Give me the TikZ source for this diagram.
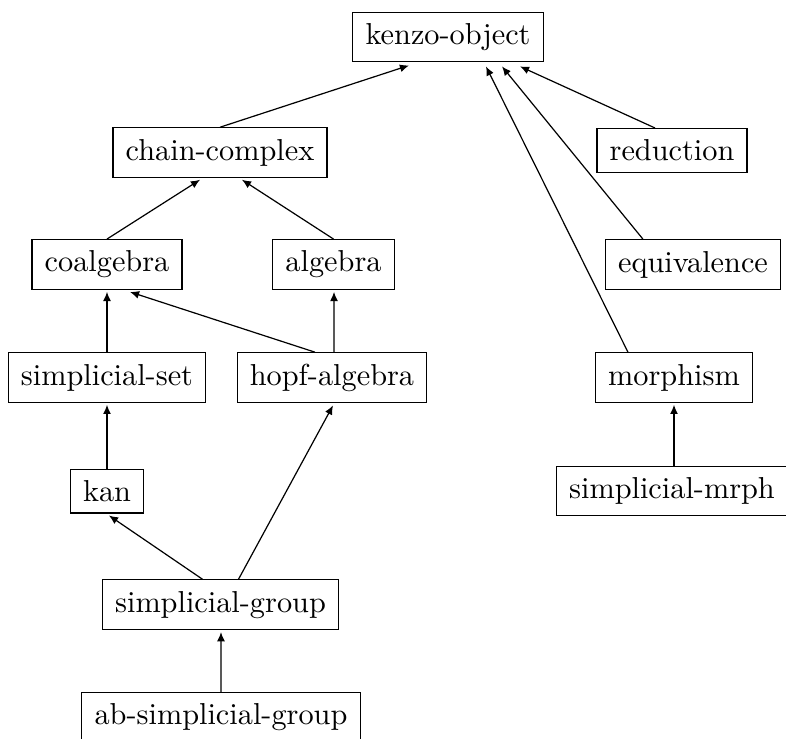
\documentclass[tikz,border=0pt]{standalone}
\usetikzlibrary{arrows.meta,calc}
\begin{document}
\begin{tikzpicture}[x=0.33pt,y=-0.33pt,
  cls/.style={draw,line width=0.4pt,inner xsep=4.2pt,inner ysep=3.7pt,font=\normalsize},
  inh/.style={line width=0.4pt,-{Latex[length=3pt,width=2.6pt]}}]
  \clip (0,0) rectangle (786,738);

  % class boxes
  \node[cls] (ko)    at (448,37)    {kenzo-object};
  \node[cls] (cc)    at (220,152.5) {chain-complex};
  \node[cls] (red)   at (672,150.5) {reduction};
  \node[cls] (coal)  at (107,264.5) {coalgebra};
  \node[cls] (alg)   at (333.5,264.5) {algebra};
  \node[cls] (eq)    at (693,264.5) {equivalence};
  \node[cls] (sset)  at (107,377.5) {simplicial-set};
  \node[cls] (hopf)  at (332,377.8) {hopf-algebra};
  \node[cls] (mor)   at (674,377.5) {morphism};
  \node[cls] (kan)   at (107,491)   {kan};
  \node[cls] (smrph) at (672,491)   {simplicial-mrph};
  \node[cls] (sg)    at (220.5,604.7) {simplicial-group};
  \node[cls] (ab)    at (221,717.3) {ab-simplicial-group};

  % inheritance arrows (child -> parent)
  \draw[inh] (cc.north) -- ($(ko.south)+(-39,3)$);
  \draw[inh] ($(red.north)+(-17,0)$) -- ($(ko.south)+(72,4)$);
  \draw[inh] ($(eq.north)+(-50,0)$) -- ($(ko.south)+(54,4)$);
  \draw[inh] ($(mor.north)+(-46,0)$) -- ($(ko.south)+(38,4)$);
  \draw[inh] (coal.north) -- ($(cc.south)+(-20,2)$);
  \draw[inh] (alg.north) -- ($(cc.south)+(22,2)$);
  \draw[inh] (sset.north) -- ($(coal.south)+(0,2)$);
  \draw[inh] ($(hopf.north)+(-17,0)$) -- ($(coal.south)+(23,2)$);
  \draw[inh] ($(hopf.north)+(2,0)$) -- ($(alg.south)+(0.5,2)$);
  \draw[inh] (kan.north) -- ($(sset.south)+(0,2)$);
  \draw[inh] ($(sg.north)+(-18,0)$) -- ($(kan.south)+(2,2)$);
  \draw[inh] ($(sg.north)+(18,0)$) -- ($(hopf.south)+(1,2)$);
  \draw[inh] ($(smrph.north)+(2,0)$) -- ($(mor.south)+(0,2)$);
  \draw[inh] (ab.north) -- ($(sg.south)+(0.5,2)$);
\end{tikzpicture}
\end{document}
